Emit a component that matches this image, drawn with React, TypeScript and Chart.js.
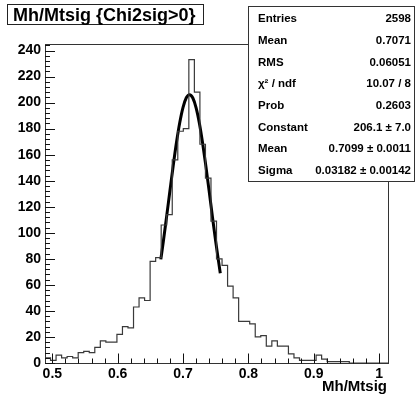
import React, { useEffect, useRef } from "react";
import { Chart, registerables } from "chart.js";

Chart.register(...registerables);

const FONT = "'Liberation Sans', Arial, Helvetica, sans-serif";

// ---- data ----
const X_MIN = 0.4888;
const X_MAX = 1.0136;
const BIN_LOW = 0.4888;
const BIN_WIDTH = 0.008465;
const BIN_COUNTS = [
  4, 2, 6, 4, 5, 4, 8, 9, 8, 12,
  17, 16, 16, 22, 28, 27, 43, 50, 48, 78,
  81, 106, 114, 156, 178, 180, 233, 208, 168, 142,
  109, 80, 75, 59, 50, 32, 32, 30, 20, 21,
  13, 17, 13, 13, 7, 4, 2, 2, 2, 6,
  3, 1, 1, 1, 1, 0, 0, 0, 0, 0,
  0, 0,
];

const FIT_X = [0.666, 0.67, 0.675, 0.68, 0.685, 0.69, 0.695, 0.7, 0.705, 0.71, 0.715, 0.72, 0.725, 0.73, 0.735, 0.74, 0.745, 0.75, 0.757];
const FIT_Y = [79.6, 93.9, 113.0, 132.5, 151.7, 169.5, 184.7, 196.4, 203.7, 206.1, 203.5, 196.0, 184.2, 168.8, 151.0, 131.8, 112.2, 93.2, 68.9];

const X_TICKS = [0.5, 0.6, 0.7, 0.8, 0.9, 1.0];
const X_TICK_LABELS = ["0.5", "0.6", "0.7", "0.8", "0.9", "1"];
const X_MINOR_STEP = 0.02;
const Y_TICKS = [0, 20, 40, 60, 80, 100, 120, 140, 160, 180, 200, 220, 240];
const Y_TICK_LABELS = ["0", "20", "40", "60", "80", "100", "120", "140", "160", "180", "200", "220", "240"];
const Y_MINOR_STEP = 4;
const Y_MAX = 245;

const TITLE = "Mh/Mtsig {Chi2sig>0}";
const X_TITLE = "Mh/Mtsig";
const STATS_LABELS = ["Entries", "Mean", "RMS", "χ² / ndf", "Prob", "Constant", "Mean", "Sigma"];
const STATS_VALUES = ["2598", "0.7071", "0.06051", "10.07 / 8", "0.2603", "206.1 ± 7.0", "0.7099 ± 0.0011", "0.03182 ± 0.00142"];

const rootDecor = {
  id: "rootDecor",
  afterDraw(chart: any) {
    const { ctx, chartArea: ca, scales } = chart;
    const xs = scales.x;
    const ys = scales.y;
    ctx.save();
    ctx.globalAlpha = 1;
    ctx.setLineDash([]);
    ctx.lineWidth = 1;

    // frame
    const L = Math.round(ca.left);
    const R = Math.round(ca.right);
    const T = Math.round(ca.top);
    const B = Math.round(ca.bottom);
    ctx.strokeStyle = "#333";
    ctx.strokeRect(L + 0.5, T + 0.5, R - L, B - T);

    // ticks (inward)
    ctx.strokeStyle = "#111";
    for (let i = 0; i * Y_MINOR_STEP <= Y_MAX; i++) {
      const v = i * Y_MINOR_STEP;
      const y = Math.round(ys.getPixelForValue(v)) + 0.5;
      const major = Y_TICKS.some((t) => Math.abs(t - v) < 1e-6);
      ctx.beginPath();
      ctx.moveTo(L, y);
      ctx.lineTo(L + (major ? 10 : 5), y);
      ctx.stroke();
    }
    for (let i = 0; 0.5 + i * X_MINOR_STEP <= X_MAX; i++) {
      const v = 0.5 + i * X_MINOR_STEP;
      const x = Math.round(xs.getPixelForValue(v)) + 0.5;
      const major = X_TICKS.some((t) => Math.abs(t - v) < 1e-6);
      ctx.beginPath();
      ctx.moveTo(x, B + 0.5);
      ctx.lineTo(x, B + 0.5 - (major ? 10 : 5));
      ctx.stroke();
    }

    // title box
    ctx.fillStyle = "#fff";
    ctx.fillRect(7, 4, 196, 20);
    ctx.strokeStyle = "#222";
    ctx.strokeRect(7.5, 4.5, 196, 20);
    ctx.fillStyle = "#000";
    ctx.font = `bold 18px ${FONT}`;
    ctx.textBaseline = "alphabetic";
    ctx.textAlign = "left";
    ctx.fillText(TITLE, 13, 20.5);

    // stats box
    ctx.fillStyle = "#fff";
    ctx.fillRect(248, 6, 166, 176);
    ctx.strokeStyle = "#333";
    ctx.strokeRect(248.5, 6.5, 166, 175);
    ctx.fillStyle = "#000";
    ctx.font = `bold 11.5px ${FONT}`;
    for (let i = 0; i < STATS_LABELS.length; i++) {
      const yc = 18.3 + 21.67 * i + 4.1;
      ctx.textAlign = "left";
      ctx.fillText(STATS_LABELS[i], 258, yc);
      ctx.textAlign = "right";
      ctx.fillText(STATS_VALUES[i], 411, yc);
    }

    // x axis title
    ctx.font = `bold 15px ${FONT}`;
    ctx.textAlign = "right";
    ctx.fillText(X_TITLE, R - 1, 391);
    ctx.restore();
  },
};

export default function App() {
  const ref = useRef<HTMLCanvasElement>(null);
  useEffect(() => {
    const edges = BIN_COUNTS.map((_, i) => BIN_LOW + i * BIN_WIDTH);
    const histPoints = BIN_COUNTS.map((c, i) => ({ x: edges[i], y: c }));
    histPoints.push({ x: BIN_LOW + BIN_COUNTS.length * BIN_WIDTH, y: BIN_COUNTS[BIN_COUNTS.length - 1] });
    const fitPoints = FIT_X.map((x, i) => ({ x, y: FIT_Y[i] }));

    const chart = new Chart(ref.current as HTMLCanvasElement, {
      type: "line",
      data: {
        datasets: [
          {
            data: histPoints,
            stepped: "before",
            borderColor: "#3a3a3a",
            borderWidth: 1.2,
            pointRadius: 0,
            fill: false,
          } as any,
          {
            data: fitPoints,
            borderColor: "#000",
            borderWidth: 3,
            pointRadius: 0,
            fill: false,
            cubicInterpolationMode: "monotone",
          } as any,
        ],
      },
      options: {
        responsive: false,
        maintainAspectRatio: false,
        devicePixelRatio: 1,
        animation: false,
        events: [],
        layout: { padding: { top: 44, right: 30, bottom: 0, left: 0 } },
        plugins: { legend: { display: false }, tooltip: { enabled: false }, title: { display: false } },
        scales: {
          x: {
            type: "linear",
            min: X_MIN,
            max: X_MAX,
            position: "bottom",
            grid: { display: false, drawTicks: false },
            border: { display: false },
            afterBuildTicks: (s: any) => {
              s.ticks = X_TICKS.map((v) => ({ value: v }));
            },
            afterFit: (s: any) => {
              s.height = 32;
            },
            ticks: {
              autoSkip: false,
              maxRotation: 0,
              minRotation: 0,
              padding: 3,
              color: "#000",
              font: { family: FONT, size: 14, weight: "bold" },
              callback: (_v: any, i: number) => X_TICK_LABELS[i],
            },
          },
          y: {
            type: "linear",
            min: 0,
            max: Y_MAX,
            grid: { display: false, drawTicks: false },
            border: { display: false },
            afterBuildTicks: (s: any) => {
              s.ticks = Y_TICKS.map((v) => ({ value: v }));
            },
            afterFit: (s: any) => {
              s.width = 45;
            },
            ticks: {
              autoSkip: false,
              padding: 4,
              color: "#000",
              font: { family: FONT, size: 14, weight: "bold" },
              callback: (_v: any, i: number) => Y_TICK_LABELS[i],
            },
          },
        },
      } as any,
      plugins: [rootDecor],
    });
    return () => chart.destroy();
  }, []);

  return (
    <div style={{ position: "fixed", left: 0, top: 0, width: 418, height: 395, background: "#fff" }}>
      <canvas ref={ref} width={418} height={395} style={{ display: "block", width: 418, height: 395 }} />
    </div>
  );
}
